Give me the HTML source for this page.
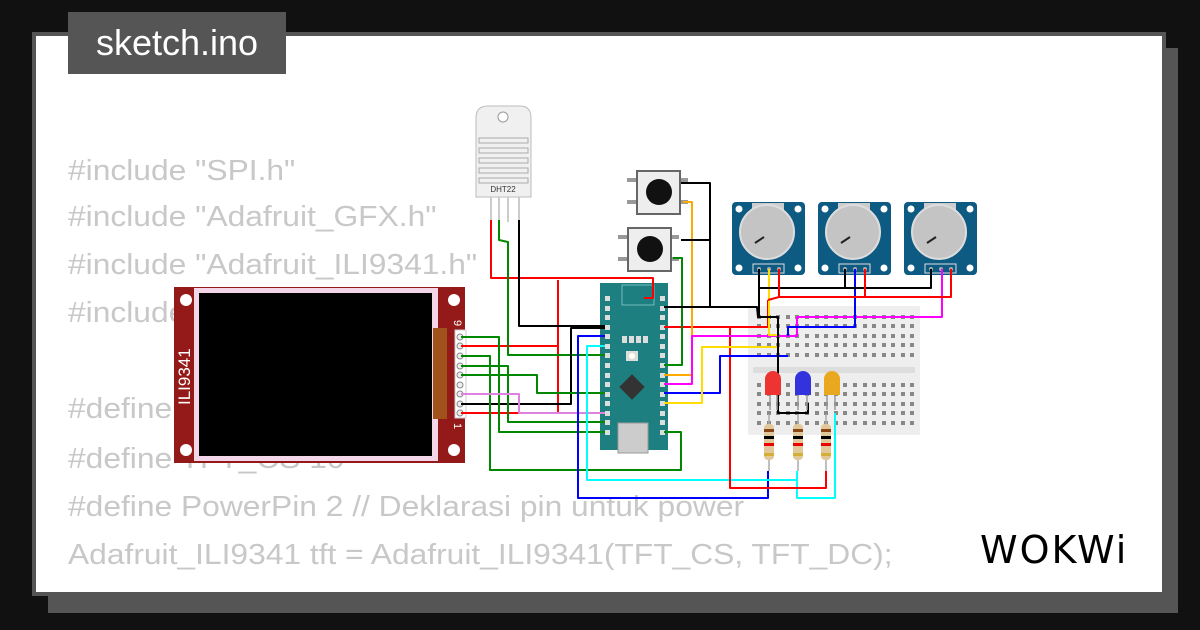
<!DOCTYPE html>
<html><head><meta charset="utf-8"><style>
html,body{margin:0;padding:0;background:#111;}
#w{position:relative;width:1200px;height:630px;overflow:hidden;background:#111;font-family:"Liberation Sans",sans-serif;}
.code{position:absolute;left:68px;color:#c8c8c8;font-size:29px;white-space:pre;line-height:1;transform:scaleX(1.095);transform-origin:0 0;}
</style></head><body><div id="w">
<div style="position:absolute;left:48px;top:48px;width:1130px;height:565px;background:#555"></div>
<div style="position:absolute;left:32px;top:32px;width:1126px;height:556px;background:#fff;border:4px solid #555"></div>
<div style="position:absolute;left:68px;top:12px;width:218px;height:62px;background:#555;color:#fff;font-size:36px;line-height:62px;text-align:center">sketch.ino</div>
<div class="code" style="top:157px">#include "SPI.h"</div>
<div class="code" style="top:203px">#include "Adafruit_GFX.h"</div>
<div class="code" style="top:251px">#include "Adafruit_ILI9341.h"</div>
<div class="code" style="top:299px">#include "DHT.h"</div>
<div class="code" style="top:395px">#define TFT_DC 9</div>
<div class="code" style="top:445px">#define TFT_CS 10</div>
<div class="code" style="top:493px">#define PowerPin 2 // Deklarasi pin untuk power</div>
<div class="code" style="top:541px">Adafruit_ILI9341 tft = Adafruit_ILI9341(TFT_CS, TFT_DC);</div>
<div style="position:absolute;left:980px;top:528px;font-size:38px;color:#000;letter-spacing:2px;font-family:'DejaVu Sans',sans-serif">WOKWi</div>
<svg style="position:absolute;left:0;top:0" width="1200" height="630" viewBox="0 0 1200 630">
<rect x="174" y="287" width="291" height="176" fill="#941a1a"/>
<rect x="194" y="288" width="244" height="173" fill="#f3d7e8"/>
<rect x="199" y="293" width="233" height="163" fill="#000"/>
<rect x="433" y="328" width="14" height="91" fill="#a0521a"/>
<circle cx="186" cy="300" r="6" fill="#fff"/><circle cx="186" cy="450" r="6" fill="#fff"/>
<circle cx="454" cy="300" r="6" fill="#fff"/><circle cx="454" cy="450" r="6" fill="#fff"/>
<text x="0" y="0" transform="translate(190,405) rotate(-90)" fill="#fff" font-size="17" font-family="Liberation Sans">ILI9341</text>
<rect x="455" y="330" width="11" height="88" fill="#fff" stroke="#ccc"/>
<g fill="#eee" stroke="#888" stroke-width="1">
<circle cx="460" cy="337" r="3"/><circle cx="460" cy="346" r="3"/><circle cx="460" cy="356" r="3"/><circle cx="460" cy="366" r="3"/><circle cx="460" cy="375" r="3"/><circle cx="460" cy="385" r="3"/><circle cx="460" cy="394" r="3"/><circle cx="460" cy="404" r="3"/><circle cx="460" cy="413" r="3"/></g>
<text x="0" y="0" transform="translate(454,320) rotate(90)" fill="#fff" font-size="11">9</text>
<text x="0" y="0" transform="translate(454,423) rotate(90)" fill="#fff" font-size="11">1</text>
<path d="M476,197 L476,118 Q476,106 488,106 L520,106 Q531,106 531,118 L531,197 Z" fill="#f0f0f0" stroke="#bbb"/>
<circle cx="503" cy="117" r="5" fill="#fff" stroke="#999"/>
<g fill="none" stroke="#aaa" stroke-width="1"><rect x="479" y="138" width="49" height="5"/><rect x="479" y="148" width="49" height="5"/><rect x="479" y="158" width="49" height="5"/><rect x="479" y="168" width="49" height="5"/><rect x="479" y="178" width="49" height="5"/></g>
<text x="503" y="192" font-size="8" text-anchor="middle" fill="#333">DHT22</text>
<g stroke="#ccc" stroke-width="2"><line x1="491" y1="197" x2="491" y2="222"/><line x1="499" y1="197" x2="499" y2="222"/><line x1="508" y1="197" x2="508" y2="222"/><line x1="519" y1="197" x2="519" y2="222"/></g>
<g><rect x="627" y="178" width="12" height="4" fill="#999"/><rect x="627" y="200" width="12" height="4" fill="#999"/><rect x="678" y="178" width="10" height="4" fill="#999"/><rect x="678" y="200" width="10" height="4" fill="#999"/>
<rect x="637" y="171" width="43" height="43" fill="#eee" stroke="#666" stroke-width="2"/><circle cx="659" cy="192" r="13" fill="#111"/></g>
<g><rect x="618" y="235" width="12" height="4" fill="#999"/><rect x="618" y="257" width="12" height="4" fill="#999"/><rect x="669" y="235" width="10" height="4" fill="#999"/><rect x="669" y="257" width="10" height="4" fill="#999"/>
<rect x="628" y="228" width="43" height="43" fill="#eee" stroke="#666" stroke-width="2"/><circle cx="650" cy="249" r="13" fill="#111"/></g>
<g id="pot"><rect x="732" y="202" width="73" height="73" rx="4" fill="#0d5a83"/><rect x="752" y="203" width="32" height="10" fill="#ccc"/><circle cx="767" cy="232" r="27" fill="#c4c4c4" stroke="#ddd" stroke-width="2"/><line x1="755" y1="243" x2="764" y2="237" stroke="#222" stroke-width="2"/><circle cx="739" cy="209" r="3.5" fill="#fff"/><circle cx="798" cy="209" r="3.5" fill="#fff"/><circle cx="739" cy="268" r="3.5" fill="#fff"/><circle cx="798" cy="268" r="3.5" fill="#fff"/><rect x="753" y="264" width="31" height="9" fill="none" stroke="#ddd"/><circle cx="759" cy="269" r="2" fill="#aaa"/><circle cx="769" cy="269" r="2" fill="#aaa"/><circle cx="779" cy="269" r="2" fill="#aaa"/></g>
<use href="#pot" x="86"/><use href="#pot" x="172"/>
<rect x="748" y="306" width="172" height="129" rx="2" fill="#eee"/>
<rect x="753" y="367" width="162" height="6" fill="#ddd"/>
<g fill="#888" id="bbrow"><rect x="757" y="315" width="4" height="4"/><rect x="767" y="315" width="4" height="4"/><rect x="776" y="315" width="4" height="4"/><rect x="786" y="315" width="4" height="4"/><rect x="795" y="315" width="4" height="4"/><rect x="805" y="315" width="4" height="4"/><rect x="815" y="315" width="4" height="4"/><rect x="824" y="315" width="4" height="4"/><rect x="834" y="315" width="4" height="4"/><rect x="843" y="315" width="4" height="4"/><rect x="853" y="315" width="4" height="4"/><rect x="863" y="315" width="4" height="4"/><rect x="872" y="315" width="4" height="4"/><rect x="882" y="315" width="4" height="4"/><rect x="891" y="315" width="4" height="4"/><rect x="901" y="315" width="4" height="4"/><rect x="910" y="315" width="4" height="4"/></g>
<use href="#bbrow" y="9"/><use href="#bbrow" y="19"/><use href="#bbrow" y="28"/><use href="#bbrow" y="38"/>
<use href="#bbrow" y="68"/><use href="#bbrow" y="77"/><use href="#bbrow" y="87"/><use href="#bbrow" y="96"/><use href="#bbrow" y="106"/>
<rect x="600" y="283" width="68" height="167" fill="#1e7f80"/>
<rect x="622" y="285" width="32" height="20" fill="none" stroke="#8cc" stroke-width="0.8"/>
<g fill="#ddd"><rect x="605" y="296" width="5" height="5"/><rect x="605" y="306" width="5" height="5"/><rect x="605" y="315" width="5" height="5"/><rect x="605" y="325" width="5" height="5"/><rect x="605" y="334" width="5" height="5"/><rect x="605" y="344" width="5" height="5"/><rect x="605" y="353" width="5" height="5"/><rect x="605" y="363" width="5" height="5"/><rect x="605" y="373" width="5" height="5"/><rect x="605" y="382" width="5" height="5"/><rect x="605" y="392" width="5" height="5"/><rect x="605" y="401" width="5" height="5"/><rect x="605" y="411" width="5" height="5"/><rect x="605" y="420" width="5" height="5"/><rect x="605" y="430" width="5" height="5"/>
<rect x="660" y="296" width="5" height="5"/><rect x="660" y="306" width="5" height="5"/><rect x="660" y="315" width="5" height="5"/><rect x="660" y="325" width="5" height="5"/><rect x="660" y="334" width="5" height="5"/><rect x="660" y="344" width="5" height="5"/><rect x="660" y="353" width="5" height="5"/><rect x="660" y="363" width="5" height="5"/><rect x="660" y="373" width="5" height="5"/><rect x="660" y="382" width="5" height="5"/><rect x="660" y="392" width="5" height="5"/><rect x="660" y="401" width="5" height="5"/><rect x="660" y="411" width="5" height="5"/><rect x="660" y="420" width="5" height="5"/><rect x="660" y="430" width="5" height="5"/>
<rect x="622" y="336" width="5" height="7"/><rect x="629" y="336" width="5" height="7"/><rect x="636" y="336" width="5" height="7"/><rect x="643" y="336" width="5" height="7"/></g>
<rect x="626" y="351" width="12" height="10" fill="#ddd"/><circle cx="632" cy="356" r="3" fill="#ffe"/>
<rect x="623" y="378" width="18" height="18" fill="#333" transform="rotate(45 632 387)"/>
<rect x="618" y="423" width="30" height="30" fill="#ccc" stroke="#999"/>
<g fill="none" stroke-width="2" stroke-linejoin="round">
<polyline stroke="#f00" points="491,220 491,278 653,278 653,298 644,298"/>
<polyline stroke="#f00" points="558,280 558,413 461,413"/>
<polyline stroke="#f00" points="461,346 558,346"/>
<polyline stroke="#080" points="499,220 499,240 508,242 508,355 605,355"/>
<polyline stroke="#000" points="519,220 519,326 605,326"/>
<polyline stroke="#000" points="461,404 571,404 571,328 605,328"/>
<polyline stroke="#080" points="461,337 499,337 499,432 605,432"/>
<polyline stroke="#080" points="461,356 490,356 490,470 681,470 681,432 664,432"/>
<polyline stroke="#080" points="461,366 508,366 508,422 605,422"/>
<polyline stroke="#080" points="461,375 537,375 537,393 605,393"/>
<polyline stroke="#e080e0" points="461,394 519,394 519,413 605,413"/>
<polyline stroke="#00f" points="605,336 578,336 578,498 768,498 768,471"/>
<polyline stroke="#0ff" points="605,346 587,346 587,480 797,480 797,471"/>
<polyline stroke="#0ff" points="797,480 797,498 835,498 835,413"/>
<polyline stroke="#f00" points="664,327 768,327 768,300"/>
<polyline stroke="#f00" points="730,327 730,488 826,488 826,471"/>
<polyline stroke="#080" points="664,365 682,365 682,258 673,258"/>
<polyline stroke="#fa0" points="664,375 692,375 692,202 683,202"/>
<polyline stroke="#f0f" points="664,384 692,384 692,336 797,336 797,317 942,317 942,269"/>
<polyline stroke="#00f" points="664,393 720,393 720,356 788,356"/>
<polyline stroke="#00f" points="788,336 788,327 855,327 855,269"/>
<polyline stroke="#fd0" points="664,403 702,403 702,347 778,347 778,335 769,335 769,269"/>
<polyline stroke="#000" points="681,183 710,183 710,307 664,307"/>
<polyline stroke="#000" points="681,240 710,240"/>
<polyline stroke="#000" points="710,307 757,307 758,317 778,317 778,413 808,413 808,403"/>
<polyline stroke="#000" points="759,269 759,317"/>
<polyline stroke="#000" points="759,288 931,288 931,269"/>
<polyline stroke="#000" points="845,269 845,288"/>
<polyline stroke="#f00" points="779,269 779,297 951,297 951,269"/>
<polyline stroke="#f00" points="865,269 865,297"/>
<polyline stroke="#f00" points="768,300 779,297"/>
</g>
<g><path d="M765,395 L765,379 A8,8 0 0 1 781,379 L781,395 Z" fill="#e33"/><line x1="770" y1="395" x2="770" y2="410" stroke="#999" stroke-width="1.5"/><line x1="777" y1="395" x2="777" y2="410" stroke="#999" stroke-width="1.5"/></g>
<g><path d="M795,395 L795,379 A8,8 0 0 1 811,379 L811,395 Z" fill="#33d"/><line x1="798" y1="395" x2="798" y2="410" stroke="#999" stroke-width="1.5"/><line x1="807" y1="395" x2="807" y2="410" stroke="#999" stroke-width="1.5"/></g>
<g><path d="M824,395 L824,379 A8,8 0 0 1 840,379 L840,395 Z" fill="#e9a820"/><line x1="827" y1="395" x2="827" y2="410" stroke="#999" stroke-width="1.5"/><line x1="835" y1="395" x2="835" y2="410" stroke="#999" stroke-width="1.5"/></g>
<g id="res"><line x1="769" y1="414" x2="769" y2="471" stroke="#aaa" stroke-width="1.5"/><rect x="764" y="424" width="10" height="36" rx="4" fill="#e0c89a"/><rect x="764" y="429" width="10" height="3" fill="#8b4513"/><rect x="764" y="436" width="10" height="3" fill="#000"/><rect x="764" y="443" width="10" height="3" fill="#e00"/><rect x="764" y="453" width="10" height="3" fill="#d4af37"/></g>
<use href="#res" x="29"/><use href="#res" x="57"/>
</svg>
</div></body></html>
